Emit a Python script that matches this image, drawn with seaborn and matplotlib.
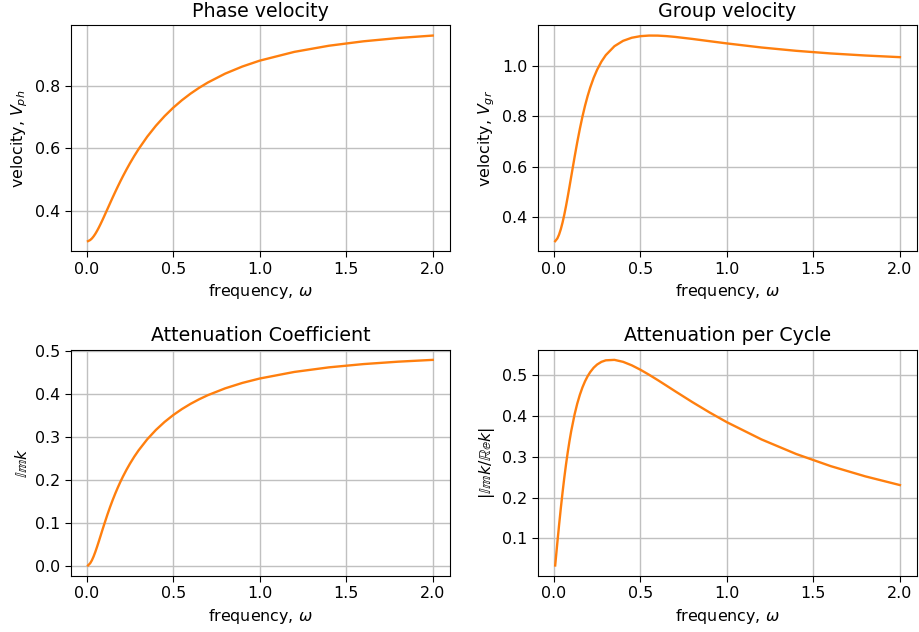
import matplotlib
matplotlib.use("Agg")
import matplotlib.pyplot as plt
import seaborn as sns

# frequency samples and the four curves
omega = [0.0075, 0.02, 0.03, 0.04, 0.05, 0.06, 0.07, 0.08, 0.09, 0.1, 0.12, 0.135,
         0.15, 0.165, 0.18, 0.195, 0.21, 0.23, 0.25, 0.275, 0.3, 0.35, 0.4, 0.45,
         0.5, 0.55, 0.6, 0.65, 0.7, 0.8, 0.9, 1.0, 1.2, 1.4, 1.6, 1.8, 2.0]

v_phase = [0.3021, 0.3057, 0.3107, 0.3175, 0.3257, 0.3352, 0.3456, 0.3568, 0.3685,
           0.3806, 0.4052, 0.4237, 0.4421, 0.4600, 0.4775, 0.4945, 0.5109, 0.5318,
           0.5518, 0.5753, 0.5973, 0.6372, 0.6721, 0.7028, 0.7299, 0.7538, 0.7750,
           0.7938, 0.8106, 0.8391, 0.8620, 0.8808, 0.9089, 0.9286, 0.9428, 0.9533, 0.9612]

v_group = [0.3033, 0.3141, 0.3297, 0.3509, 0.3773, 0.4082, 0.4428, 0.4802, 0.5195,
           0.5597, 0.6398, 0.6971, 0.7504, 0.7989, 0.8425, 0.8810, 0.9150, 0.9537,
           0.9858, 1.0183, 1.0438, 1.0794, 1.1007, 1.1130, 1.1193, 1.1217, 1.1215,
           1.1195, 1.1164, 1.1083, 1.0993, 1.0904, 1.0742, 1.0610, 1.0505, 1.0423, 1.0357]

im_k = [0.0008, 0.0059, 0.0128, 0.0219, 0.0326, 0.0444, 0.0568, 0.0696, 0.0825,
        0.0951, 0.1196, 0.1368, 0.1530, 0.1682, 0.1824, 0.1958, 0.2082, 0.2236,
        0.2378, 0.2541, 0.2688, 0.2946, 0.3163, 0.3349, 0.3509, 0.3648, 0.3770,
        0.3877, 0.3972, 0.4131, 0.4258, 0.4360, 0.4513, 0.4620, 0.4696, 0.4752, 0.4794]

att_cycle = [0.0340, 0.0899, 0.1329, 0.1738, 0.2122, 0.2479, 0.2806, 0.3105, 0.3376,
             0.3621, 0.4037, 0.4294, 0.4509, 0.4690, 0.4840, 0.4964, 0.5065, 0.5172,
             0.5250, 0.5315, 0.5352, 0.5363, 0.5315, 0.5230, 0.5122, 0.5000, 0.4870,
             0.4735, 0.4599, 0.4332, 0.4078, 0.3840, 0.3419, 0.3064, 0.2767, 0.2517, 0.2304]

titles = ["Phase velocity", "Group velocity", "Attenuation Coefficient", "Attenuation per Cycle"]
ylabels = [r"velocity, $V_{ph}$", r"velocity, $V_{gr}$", r"$\mathbb{Im} k$",
           r"$|\mathbb{Im} k / \mathbb{Re} k|$"]
series = [v_phase, v_group, im_k, att_cycle]
yticks = [[0.4, 0.6, 0.8], [0.4, 0.6, 0.8, 1.0],
          [0.0, 0.1, 0.2, 0.3, 0.4, 0.5], [0.1, 0.2, 0.3, 0.4, 0.5]]

plt.rcParams.update({
    "font.size": 11.4,
    "xtick.major.size": 4,
    "ytick.major.size": 4,
})

fig, axs = plt.subplots(2, 2, figsize=(9.19, 6.32), dpi=100)
plt.subplots_adjust(left=0.077, right=0.998, top=0.960, bottom=0.089,
                    wspace=0.232, hspace=0.434)

for ax, y, title, ylab, yt in zip(axs.flat, series, titles, ylabels, yticks):
    sns.lineplot(x=omega, y=y, ax=ax, color="#ff7f0e", linewidth=1.7)
    ax.set_title(title, fontsize=13.7)
    ax.set_xlabel(r"frequency, $\omega$")
    ax.set_ylabel(ylab)
    ax.set_xticks([0.0, 0.5, 1.0, 1.5, 2.0])
    ax.set_yticks(yt)
    ax.grid(True, color="#c0c0c0", linewidth=1.0)

fig.savefig("out.png", dpi=100)
